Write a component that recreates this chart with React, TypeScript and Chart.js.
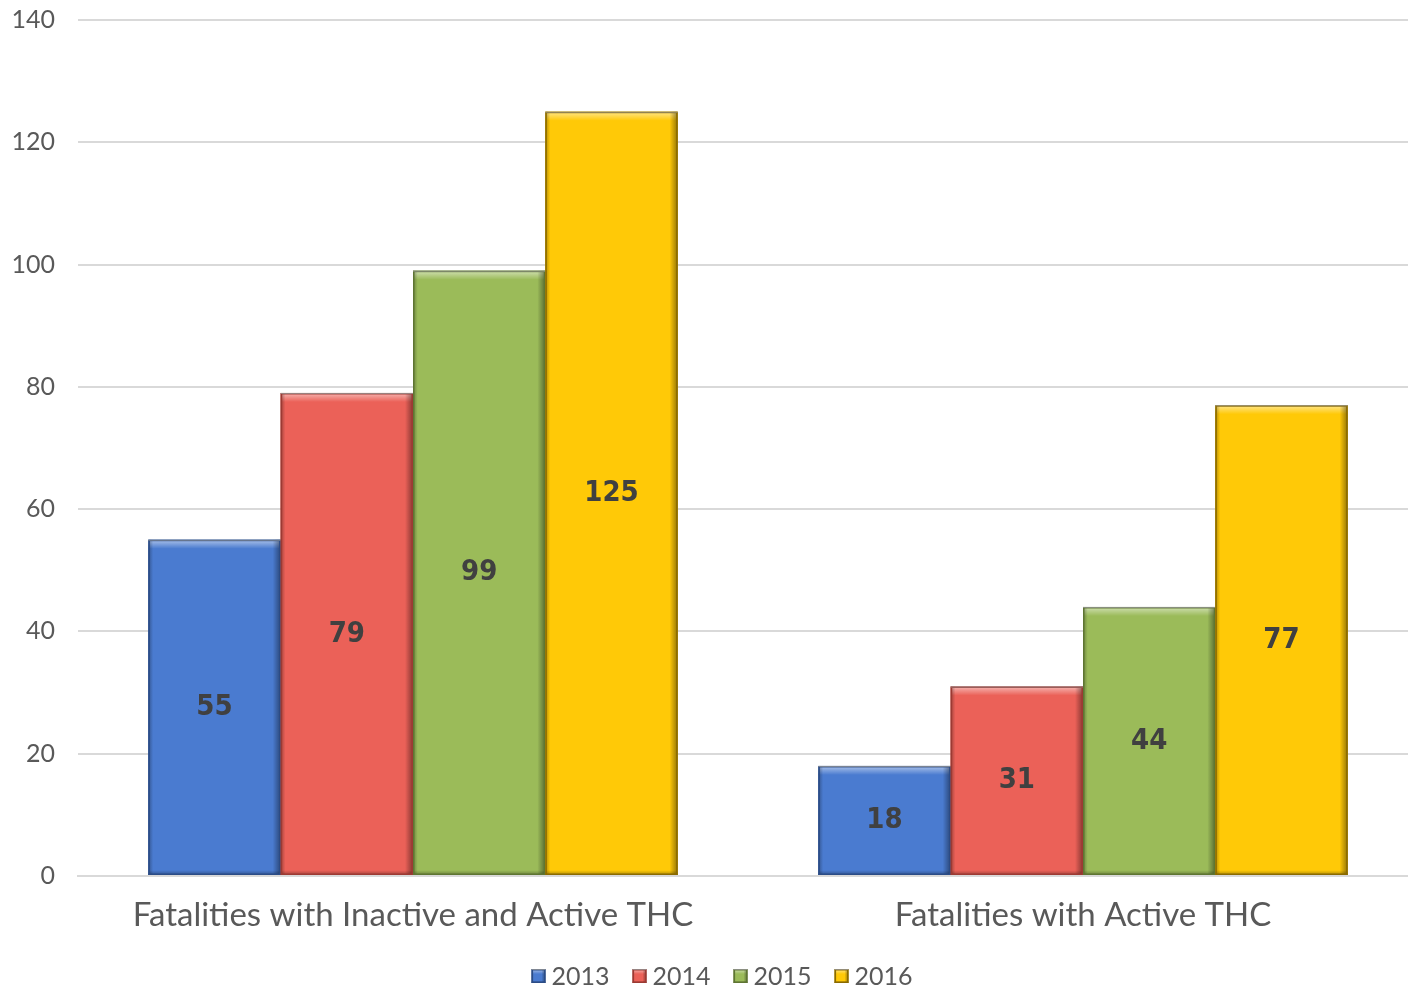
import React, { useEffect, useRef } from "react";
import { Chart, registerables } from "chart.js";

Chart.register(...registerables);

const categories = ["Fatalities with Inactive and Active THC", "Fatalities with Active THC"];
const seriesNames = ["2013", "2014", "2015", "2016"];
const values2013 = [55, 18];
const values2014 = [79, 31];
const values2015 = [99, 44];
const values2016 = [125, 77];
const yMin = 0;
const yMax = 140;
const yStep = 20;

const fills = ["#4A7BD0", "#EB6158", "#9BBB59", "#FFC907"];
const edges = ["#2B4C86", "#9C3A33", "#5E7532", "#8A6A00"];

const TEXT = "#595959";
const AXIS_FONT = "Lato, sans-serif";
const TICK_FONT = "Lato, sans-serif";
const LABEL_FONT = "'DejaVu Sans Condensed', 'DejaVu Sans', sans-serif";

function bevelRect(ctx: any, left: number, top: number, w: number, h: number, fill: string, edge: string, band: number) {
  const right = left + w;
  const bottom = top + h;
  ctx.save();
  ctx.fillStyle = fill;
  ctx.fillRect(left, top, w, h);
  let g = ctx.createLinearGradient(0, top, 0, top + band + 1);
  g.addColorStop(0, "rgba(255,255,255,0.55)");
  g.addColorStop(1, "rgba(255,255,255,0)");
  ctx.fillStyle = g;
  ctx.fillRect(left, top, w, Math.min(band + 1, h));
  g = ctx.createLinearGradient(right - band, 0, right, 0);
  g.addColorStop(0, "rgba(0,0,0,0)");
  g.addColorStop(1, "rgba(0,0,0,0.42)");
  ctx.fillStyle = g;
  ctx.fillRect(right - band, top, band, h);
  g = ctx.createLinearGradient(left, 0, left + band * 0.6, 0);
  g.addColorStop(0, "rgba(0,0,0,0.3)");
  g.addColorStop(1, "rgba(0,0,0,0)");
  ctx.fillStyle = g;
  ctx.fillRect(left, top, band * 0.6, h);
  g = ctx.createLinearGradient(0, bottom - band * 0.6, 0, bottom);
  g.addColorStop(0, "rgba(0,0,0,0)");
  g.addColorStop(1, "rgba(0,0,0,0.3)");
  ctx.fillStyle = g;
  ctx.fillRect(left, bottom - band * 0.6, w, band * 0.6);
  ctx.strokeStyle = edge;
  ctx.lineWidth = 1.5;
  ctx.strokeRect(left + 0.75, top + 0.75, w - 1.5, h - 1.5);
  ctx.strokeStyle = "rgba(150,150,150,0.8)";
  ctx.lineWidth = 1;
  ctx.beginPath();
  ctx.moveTo(left, top + 0.5);
  ctx.lineTo(right, top + 0.5);
  ctx.stroke();
  ctx.restore();
}

const bevelPlugin = {
  id: "bevel",
  afterDatasetsDraw(chart: any) {
    const ctx = chart.ctx;
    chart.data.datasets.forEach((ds: any, di: number) => {
      const meta = chart.getDatasetMeta(di);
      meta.data.forEach((bar: any) => {
        const p = bar.getProps(["x", "y", "base", "width"], true);
        const left = p.x - p.width / 2;
        const top = Math.min(p.y, p.base);
        const h = Math.abs(p.base - p.y);
        bevelRect(ctx, left, top, p.width, h, fills[di], edges[di], 8);
      });
    });
  },
};

const labelPlugin = {
  id: "valueLabels",
  afterDatasetsDraw(chart: any) {
    const ctx = chart.ctx;
    ctx.save();
    ctx.font = "bold 29px " + LABEL_FONT;
    ctx.fillStyle = "#404040";
    ctx.textAlign = "center";
    ctx.textBaseline = "middle";
    chart.data.datasets.forEach((ds: any, di: number) => {
      const meta = chart.getDatasetMeta(di);
      meta.data.forEach((bar: any, i: number) => {
        const p = bar.getProps(["x", "y", "base"], true);
        ctx.fillText(String(ds.data[i]), p.x, (p.y + p.base) / 2);
      });
    });
    ctx.restore();
  },
};

const legendPlugin = {
  id: "customLegend",
  afterDraw(chart: any) {
    const ctx = chart.ctx;
    ctx.save();
    ctx.font = "25px " + TICK_FONT;
    const box = 14;
    const gap = 6;
    const itemGap = 23;
    const widths = seriesNames.map((n) => box + gap + ctx.measureText(n).width);
    const total = widths.reduce((a, b) => a + b, 0) + itemGap * (seriesNames.length - 1);
    let x = 722 - total / 2;
    const cy = chart.height - 15;
    seriesNames.forEach((n, i) => {
      bevelRect(ctx, x, cy - box / 2, box, box, fills[i], edges[i], 4);
      ctx.fillStyle = TEXT;
      ctx.textAlign = "left";
      ctx.textBaseline = "middle";
      ctx.fillText(n, x + box + gap, cy + 1);
      x += widths[i] + itemGap;
    });
    ctx.restore();
  },
};

export default function App() {
  const ref = useRef<HTMLCanvasElement | null>(null);
  useEffect(() => {
    if (!ref.current) return;
    const all = [values2013, values2014, values2015, values2016];
    const chart = new Chart(ref.current, {
      type: "bar",
      data: {
        labels: categories,
        datasets: seriesNames.map((name, i) => ({
          label: name,
          data: all[i],
          backgroundColor: fills[i],
          borderWidth: 0,
          categoryPercentage: 0.79,
          barPercentage: 1.0,
        })),
      },
      options: {
        responsive: false,
        animation: false,
        layout: { padding: { top: 20, right: 0, left: 0, bottom: 55 } },
        plugins: {
          tooltip: { enabled: false },
          legend: { display: false },
        },
        scales: {
          x: {
            grid: { display: false, drawTicks: false },
            border: { color: "#D9D9D9", width: 2 },
            ticks: {
              color: TEXT,
              font: { family: AXIS_FONT, size: 33 },
              padding: 20,
            },
            afterFit: (scale: any) => {
              scale.height = 60;
              scale.paddingLeft = 0;
              scale.paddingRight = 0;
            },
          },
          y: {
            min: yMin,
            max: yMax,
            grid: { color: "#D9D9D9", lineWidth: 2, drawTicks: false },
            border: { display: false },
            ticks: {
              stepSize: yStep,
              color: TEXT,
              font: { family: TICK_FONT, size: 25 },
              padding: 23,
            },
            afterFit: (scale: any) => {
              scale.width = 78;
              scale.paddingTop = 0;
              scale.paddingBottom = 0;
            },
          },
        },
      },
      plugins: [bevelPlugin, labelPlugin, legendPlugin],
    });
    return () => chart.destroy();
  }, []);
  return (
    <div style={{ position: "absolute", left: 0, top: 0, width: 1408, height: 991, overflow: "hidden", background: "#fff" }}>
      <canvas ref={ref} width={1418} height={991} style={{ display: "block" }} />
    </div>
  );
}
